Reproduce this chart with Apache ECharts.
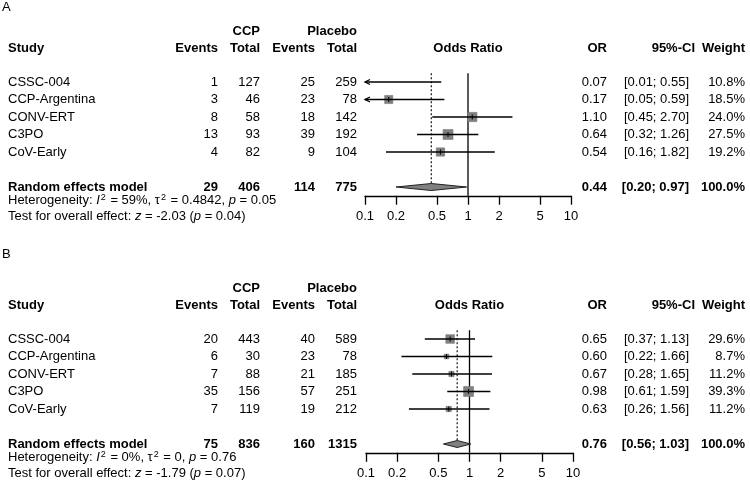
<!DOCTYPE html>
<html><head><meta charset="utf-8">
<script src="https://cdn.jsdelivr.net/npm/echarts@6/dist/echarts.min.js"></script>
<style>html,body{margin:0;padding:0;background:#fff}#c{width:750px;height:488px}</style>
</head><body><div id="c"></div>
<script>
// ---------- data ----------
const studies = ['CSSC-004', 'CCP-Argentina', 'CONV-ERT', 'C3PO', 'CoV-Early'];
const tickLabels = [0.1, 0.2, 0.5, 1, 2, 5, 10];

// Panel A
const ccpEventsA = [1, 3, 8, 13, 4];
const ccpTotalA = [127, 46, 58, 93, 82];
const plcEventsA = [25, 23, 18, 39, 9];
const plcTotalA = [259, 78, 142, 192, 104];
const orA = [0.07, 0.17, 1.10, 0.64, 0.54];
const loA = [0.01, 0.05, 0.45, 0.32, 0.16];
const hiA = [0.55, 0.59, 2.70, 1.26, 1.82];
const weightA = [10.8, 18.5, 24.0, 27.5, 19.2];
const summaryA = [29, 406, 114, 775, 0.44, 0.20, 0.97, 100.0];
const hetA = ['59%', '0.4842', '0.05'];
const testA = ['-2.03', '0.04'];

// Panel B
const ccpEventsB = [20, 6, 7, 35, 7];
const ccpTotalB = [443, 30, 88, 156, 119];
const plcEventsB = [40, 23, 21, 57, 19];
const plcTotalB = [589, 78, 185, 251, 212];
const orB = [0.65, 0.60, 0.67, 0.98, 0.63];
const loB = [0.37, 0.22, 0.28, 0.61, 0.26];
const hiB = [1.13, 1.66, 1.65, 1.59, 1.56];
const weightB = [29.6, 8.7, 11.2, 39.3, 11.2];
const summaryB = [75, 836, 160, 1315, 0.76, 0.56, 1.03, 100.0];
const hetB = ['0%', '0', '0.76'];
const testB = ['-1.79', '0.07'];

// ---------- layout ----------
const FONT = 'Arial, "Liberation Sans", Helvetica, sans-serif';
const FS = 13;
const COL = {study: 8, ev1: 218, tot1: 260, ev2: 315, tot2: 357, or: 607, ci: 689, ciHead: 695, w: 745};
const ROW = {group: -2.9, head: -1.9, summary: 6, het: 6.77, test: 7.7};
const LW = 1.3;
const BOX = 10;
const lg = v => Math.log10(v);

const panels = [
  {label: 'A', labelY: 8, grid: {left: 365, top: 73.25, width: 206, height: 122.5},
   ev1: ccpEventsA, tot1: ccpTotalA, ev2: plcEventsA, tot2: plcTotalA, or: orA, lo: loA, hi: hiA, w: weightA,
   sum: summaryA, het: hetA, test: testA},
  {label: 'B', labelY: 255, grid: {left: 366, top: 330.25, width: 207, height: 122.5},
   ev1: ccpEventsB, tot1: ccpTotalB, ev2: plcEventsB, tot2: plcTotalB, or: orB, lo: loB, hi: hiB, w: weightB,
   sum: summaryB, het: hetB, test: testB}
];

function txt(x, y, s, align, bold) {
  return {type: 'text', x: x, y: y, style: {
    text: s, fill: '#000', fontSize: FS, fontFamily: FONT, fontWeight: bold ? 'bold' : 'normal',
    align: align, verticalAlign: 'middle'}};
}
function rich(x, y, s) {
  const base = {fontSize: FS, fontFamily: FONT, fill: '#000', lineHeight: 15};
  return {type: 'text', x: x, y: y, style: {
    text: s, fill: '#000', fontSize: FS, fontFamily: FONT, align: 'left', verticalAlign: 'middle',
    rich: {
      r: base,
      i: Object.assign({}, base, {fontStyle: 'italic'}),
      s: {fontSize: 9, fontFamily: FONT, fill: '#000', lineHeight: 9, verticalAlign: 'top', padding: [0, 1, 0, 1]}
    }}};
}

const grids = [], xAxes = [], yAxes = [], series = [], graphics = [];

panels.forEach((p, gi) => {
  grids.push(Object.assign({containLabel: false}, p.grid));
  xAxes.push({
    gridIndex: gi, type: 'value', min: -1, max: 1, position: 'bottom',
    axisLine: {show: true, onZero: false, lineStyle: {color: '#000', width: LW}},
    axisTick: {show: true, customValues: tickLabels.map(lg), length: 9, lineStyle: {color: '#000', width: LW}},
    axisLabel: {customValues: tickLabels.map(lg), margin: 14, color: '#000', fontSize: 13, fontFamily: FONT,
      formatter: v => { const t = tickLabels.find(t => Math.abs(lg(t) - v) < 1e-6); return t === undefined ? '' : String(t); }},
    splitLine: {show: false}
  });
  yAxes.push({gridIndex: gi, type: 'value', min: -0.5, max: 6.5, inverse: true, show: false});

  const maxW = Math.max.apply(null, p.w);
  const ciData = studies.map((s, i) => [lg(p.or[i]), i, lg(p.lo[i]), lg(p.hi[i]), p.w[i]]);

  // reference line at OR = 1
  series.push({type: 'custom', xAxisIndex: gi, yAxisIndex: gi, silent: true, data: [[0, 0]],
    renderItem: (params, api) => {
      const a = api.coord([0, -0.5]), b = api.coord([0, 6.5]);
      return {type: 'line', shape: {x1: a[0], y1: a[1], x2: b[0], y2: b[1]}, style: {stroke: '#000', lineWidth: LW}};
    }});
  // dotted line at summary estimate
  const DH = 3.5;
  series.push({type: 'custom', xAxisIndex: gi, yAxisIndex: gi, silent: true, data: [[lg(p.sum[4]), ROW.summary]],
    renderItem: (params, api) => {
      const a = api.coord([api.value(0), -0.5]), b = api.coord([api.value(0), api.value(1)]);
      return {type: 'line', shape: {x1: a[0], y1: a[1], x2: b[0], y2: b[1] - DH}, style: {stroke: '#000', lineWidth: 1.1, lineDash: [2, 2]}};
    }});
  // study CIs and boxes
  series.push({type: 'custom', xAxisIndex: gi, yAxisIndex: gi, silent: true, encode: {x: 0, y: 1}, data: ciData,
    renderItem: (params, api) => {
      const o = api.value(0), row = api.value(1), lo = api.value(2), hi = api.value(3), w = api.value(4);
      const lx = Math.max(lo, -1), hx = Math.min(hi, 1);
      const a = api.coord([lx, row]), b = api.coord([hx, row]);
      const ch = [];
      if (o >= -1 && o <= 1) {
        const s = BOX * Math.sqrt(w / maxW), c = api.coord([o, row]);
        ch.push({type: 'rect', shape: {x: c[0] - s / 2, y: c[1] - s / 2, width: s, height: s}, style: {fill: '#808080', stroke: '#707070', lineWidth: 0.5}});
        ch.push({type: 'line', shape: {x1: c[0], y1: c[1] - 2.5, x2: c[0], y2: c[1] + 2.5}, style: {stroke: '#000', lineWidth: 1}});
      }
      ch.push({type: 'line', shape: {x1: a[0], y1: a[1], x2: b[0], y2: b[1]}, style: {stroke: '#000', lineWidth: LW}});
      if (lo < -1) ch.push({type: 'polyline', shape: {points: [[a[0] + 5, a[1] - 2.5], [a[0], a[1]], [a[0] + 5, a[1] + 2.5]]}, style: {stroke: '#000', lineWidth: LW, fill: null}});
      if (hi > 1) ch.push({type: 'polyline', shape: {points: [[b[0] - 5, b[1] - 2.5], [b[0], b[1]], [b[0] - 5, b[1] + 2.5]]}, style: {stroke: '#000', lineWidth: LW, fill: null}});
      return {type: 'group', children: ch};
    }});
  // summary diamond
  series.push({type: 'custom', xAxisIndex: gi, yAxisIndex: gi, silent: true, encode: {x: 0, y: 1},
    data: [[lg(p.sum[4]), ROW.summary, lg(p.sum[5]), lg(p.sum[6])]],
    renderItem: (params, api) => {
      const row = api.value(1);
      const c = api.coord([api.value(0), row]), l = api.coord([api.value(2), row]), r = api.coord([api.value(3), row]);
      return {type: 'polygon', shape: {points: [[l[0], l[1]], [c[0], c[1] - DH], [r[0], r[1]], [c[0], c[1] + DH]]},
        style: {fill: '#808080', stroke: '#222', lineWidth: 1}};
    }});
  // text table
  series.push({type: 'custom', xAxisIndex: gi, yAxisIndex: gi, silent: true, data: [[0, 0]],
    renderItem: (params, api) => {
      const Y = r => api.coord([0, r])[1];
      const xOne = api.coord([0, 0])[0];
      const ch = [];
      ch.push(txt(COL.tot1, Y(ROW.group), 'CCP', 'right', true));
      ch.push(txt(COL.tot2, Y(ROW.group), 'Placebo', 'right', true));
      const hy = Y(ROW.head);
      ch.push(txt(COL.study, hy, 'Study', 'left', true));
      ch.push(txt(COL.ev1, hy, 'Events', 'right', true));
      ch.push(txt(COL.tot1, hy, 'Total', 'right', true));
      ch.push(txt(COL.ev2, hy, 'Events', 'right', true));
      ch.push(txt(COL.tot2, hy, 'Total', 'right', true));
      ch.push(txt(xOne, hy, 'Odds Ratio', 'center', true));
      ch.push(txt(COL.or, hy, 'OR', 'right', true));
      ch.push(txt(COL.ciHead, hy, '95%-CI', 'right', true));
      ch.push(txt(COL.w, hy, 'Weight', 'right', true));
      studies.forEach((s, i) => {
        const y = Y(i);
        ch.push(txt(COL.study, y, s, 'left', false));
        ch.push(txt(COL.ev1, y, String(p.ev1[i]), 'right', false));
        ch.push(txt(COL.tot1, y, String(p.tot1[i]), 'right', false));
        ch.push(txt(COL.ev2, y, String(p.ev2[i]), 'right', false));
        ch.push(txt(COL.tot2, y, String(p.tot2[i]), 'right', false));
        ch.push(txt(COL.or, y, p.or[i].toFixed(2), 'right', false));
        ch.push(txt(COL.ci, y, '[' + p.lo[i].toFixed(2) + '; ' + p.hi[i].toFixed(2) + ']', 'right', false));
        ch.push(txt(COL.w, y, p.w[i].toFixed(1) + '%', 'right', false));
      });
      const sy = Y(ROW.summary), S = p.sum;
      ch.push(txt(COL.study, sy, 'Random effects model', 'left', true));
      ch.push(txt(COL.ev1, sy, String(S[0]), 'right', true));
      ch.push(txt(COL.tot1, sy, String(S[1]), 'right', true));
      ch.push(txt(COL.ev2, sy, String(S[2]), 'right', true));
      ch.push(txt(COL.tot2, sy, String(S[3]), 'right', true));
      ch.push(txt(COL.or, sy, S[4].toFixed(2), 'right', true));
      ch.push(txt(COL.ci, sy, '[' + S[5].toFixed(2) + '; ' + S[6].toFixed(2) + ']', 'right', true));
      ch.push(txt(COL.w, sy, S[7].toFixed(1) + '%', 'right', true));
      ch.push(rich(COL.study, Y(ROW.het), '{r|Heterogeneity: }{i|I}{s|2}{r| = ' + p.het[0] + ', τ}{s|2}{r| = ' + p.het[1] + ', }{i|p}{r| = ' + p.het[2] + '}'));
      ch.push(rich(COL.study, Y(ROW.test), '{r|Test for overall effect: }{i|z}{r| = ' + p.test[0] + ' (}{i|p}{r| = ' + p.test[1] + ')}'));
      return {type: 'group', children: ch};
    }});

  graphics.push({type: 'text', left: 2, top: p.labelY - 7, silent: true,
    style: {text: p.label, fill: '#000', fontSize: FS, fontFamily: FONT}});
});

const chart = echarts.init(document.getElementById('c'), null, {renderer: 'canvas'});
chart.setOption({
  animation: false,
  backgroundColor: '#fff',
  grid: grids, xAxis: xAxes, yAxis: yAxes, series: series, graphic: graphics
});
</script></body></html>
